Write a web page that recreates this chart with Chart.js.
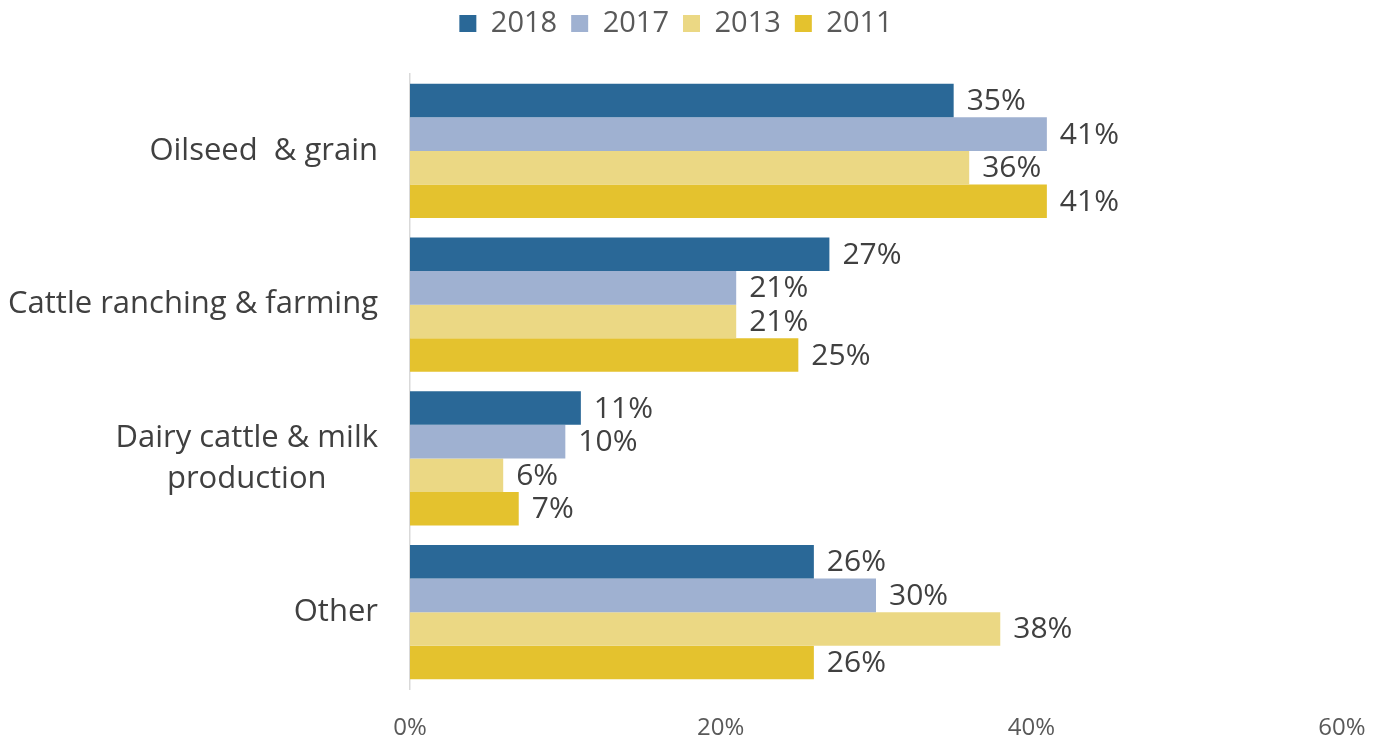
<!DOCTYPE html>
<html>
<head>
<meta charset="utf-8">
<script src="https://cdn.jsdelivr.net/npm/chart.js@4"></script>
<style>
  html, body { margin: 0; padding: 0; background: #fff; }
  #wrap { width: 1380px; height: 744px; }
</style>
</head>
<body>
<div id="wrap"><canvas id="farmChart"></canvas></div>
<script>
// categories (multi-line where the label wraps)
const categories = [['Oilseed  & grain'], ['Cattle ranching & farming'], ['Dairy cattle & milk', 'production'], ['Other']];
const seriesLabels = ['2018', '2017', '2013', '2011'];
const values2018 = [35, 27, 11, 26];
const values2017 = [41, 21, 10, 30];
const values2013 = [36, 21, 6, 38];
const values2011 = [41, 25, 7, 26];
const xTicks = [0, 20, 40, 60];

const seriesColors = ['#2a6897', '#9fb1d1', '#ebd884', '#e4c22e'];
const FONT = '"Open Sans", "Noto Sans", sans-serif';

// extra space between the legend and the bars
const legendGap = {
    id: 'legendGap',
    beforeInit(chart) {
        const fit = chart.legend.fit;
        chart.legend.fit = function () {
            fit.call(this);
            this.height += 26;
        };
    }
};

// category names drawn left of the axis, each line centred on the widest line
const categoryLabels = {
    id: 'categoryLabels',
    afterDraw(chart) {
        const ctx = chart.ctx;
        const yScale = chart.scales.y;
        const right = yScale.right - 32;
        const lineHeight = 41;
        ctx.save();
        ctx.font = '31px ' + FONT;
        ctx.fillStyle = '#404040';
        ctx.textAlign = 'center';
        ctx.textBaseline = 'middle';
        categories.forEach((lines, i) => {
            const w = Math.max(...lines.map(l => ctx.measureText(l).width));
            const cx = right - w / 2;
            const cy = yScale.getPixelForTick(i);
            lines.forEach((line, k) => {
                ctx.fillText(line, cx, cy + (k - (lines.length - 1) / 2) * lineHeight);
            });
        });
        ctx.restore();
    }
};

// percentage label at the end of each bar
const valueLabels = {
    id: 'valueLabels',
    afterDatasetsDraw(chart) {
        const ctx = chart.ctx;
        ctx.save();
        ctx.font = '30px ' + FONT;
        ctx.fillStyle = '#404040';
        ctx.textAlign = 'left';
        ctx.textBaseline = 'middle';
        chart.data.datasets.forEach((ds, di) => {
            chart.getDatasetMeta(di).data.forEach((bar, i) => {
                ctx.fillText(ds.data[i] + '%', bar.x + 13, bar.y + 1);
            });
        });
        ctx.restore();
    }
};

const allValues = [values2018, values2017, values2013, values2011];

new Chart(document.getElementById('farmChart'), {
    type: 'bar',
    data: {
        labels: categories.map(c => c.join(' ')),
        datasets: seriesLabels.map((label, i) => ({
            label: label,
            data: allValues[i],
            backgroundColor: seriesColors[i],
            borderWidth: 0,
            barPercentage: 1.0,
            categoryPercentage: 0.873
        }))
    },
    options: {
        indexAxis: 'y',
        responsive: true,
        maintainAspectRatio: false,
        animation: false,
        layout: { padding: { left: 10, right: 38, top: -5, bottom: 4 } },
        plugins: {
            legend: {
                position: 'top',
                labels: {
                    boxWidth: 17,
                    boxHeight: 17,
                    padding: 14,
                    color: '#595959',
                    font: { family: FONT, size: 29 }
                }
            },
            tooltip: { enabled: false }
        },
        scales: {
            x: {
                min: xTicks[0],
                max: xTicks[xTicks.length - 1],
                afterBuildTicks: (scale) => { scale.ticks = xTicks.map(v => ({ value: v })); },
                afterFit: (scale) => {
                    scale.height = 51;
                    scale.paddingLeft = 0;
                    scale.paddingRight = 0;
                },
                grid: { display: false, drawTicks: false },
                border: { display: false },
                ticks: {
                    padding: 25,
                    color: '#595959',
                    font: { family: FONT, size: 24 },
                    callback: (v) => v + '%'
                }
            },
            y: {
                grid: { display: false },
                border: { display: true, color: '#d9d9d9', width: 1.5 },
                ticks: { display: false },
                afterFit: (scale) => { scale.width = 400; }
            }
        }
    },
    plugins: [legendGap, categoryLabels, valueLabels]
});
</script>
</body>
</html>
